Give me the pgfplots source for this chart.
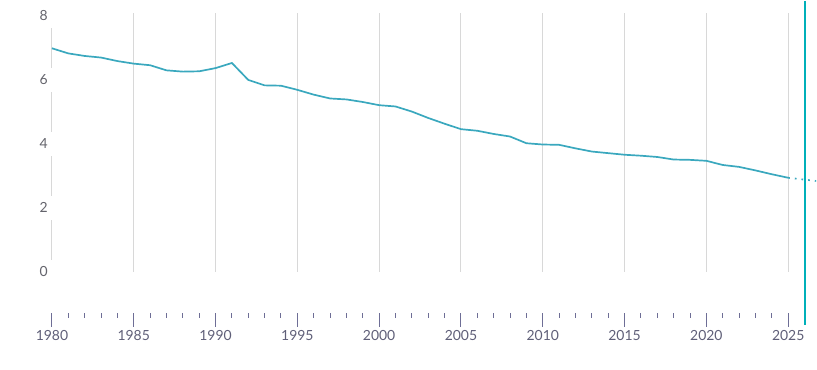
\documentclass[border=0pt]{standalone}
\usepackage{fontspec}
\setmainfont{Lato}
\usepackage{pgfplots}
\pgfplotsset{compat=1.18}
\definecolor{linec}{RGB}{58,168,190}
\definecolor{tealc}{RGB}{0,176,185}
\definecolor{gridc}{RGB}{216,216,216}
\definecolor{tickc}{RGB}{110,110,150}
\definecolor{xlabc}{RGB}{95,95,120}
\definecolor{ylabc}{RGB}{100,100,108}
\begin{document}
\begin{tikzpicture}
\begin{axis}[name=main, set layers, scale only axis, width=765bp, height=312bp,
  xmin=1980, xmax=2026.71, ymin=-1.28, ymax=8.469,
  clip=false,
  axis x line*=bottom, axis y line*=left,
  axis line style={draw=none},
  xtick={1980,1985,...,2025}, minor x tick num=4,
  ytick={0,2,4,6,8},
  tick align=outside,
  major tick length=14bp, minor tick length=5bp,
  x tick style={color=tickc, line width=1bp},
  y tick style={draw=none},
  xticklabel style={font=\fontsize{14}{16}\selectfont, text=xlabc},
  yticklabel style={font=\fontsize{14}{16}\selectfont, text=ylabc, fill=white, inner xsep=6bp, inner ysep=7bp, xshift=16bp},
  /pgf/number format/assume math mode=true,
  /pgf/number format/1000 sep={},
]
\begin{pgfonlayer}{axis background}
\pgfplotsinvokeforeach{1980,1985,1990,1995,2000,2005,2010,2015,2020,2025}{
  \draw[gridc, line width=1bp] (axis cs:#1,0) -- (axis cs:#1,8.09);
}
\end{pgfonlayer}
\addplot[linec, line width=1.7bp, mark=none] coordinates {
(1980,6.99) (1981,6.83) (1982,6.75) (1983,6.70) (1984,6.59) (1985,6.51)
(1986,6.46) (1987,6.30) (1988,6.26) (1989,6.27) (1990,6.37) (1991,6.53)
(1992,6.00) (1993,5.83) (1994,5.82) (1995,5.69) (1996,5.54) (1997,5.42)
(1998,5.39) (1999,5.31) (2000,5.21) (2001,5.17) (2002,5.01) (2003,4.81)
(2004,4.63) (2005,4.46) (2006,4.41) (2007,4.31) (2008,4.23) (2009,4.02)
(2010,3.98) (2011,3.97) (2012,3.86) (2013,3.76) (2014,3.71) (2015,3.66)
(2016,3.63) (2017,3.59) (2018,3.51) (2019,3.50) (2020,3.47) (2021,3.34)
(2022,3.28) (2023,3.17) (2024,3.05) (2025,2.94)
};
\addplot[linec, line width=1.7bp, mark=none, dash pattern=on 1.7bp off 5bp] coordinates {
(2025,2.94) (2026.71,2.84)
};
\draw[tealc, line width=2bp] (axis cs:2026,8.469) -- (axis cs:2026,-1.66);
\end{axis}
\path (main.south west) ++(-52bp,-57bp);
\path (main.north east);
\end{tikzpicture}
\end{document}
